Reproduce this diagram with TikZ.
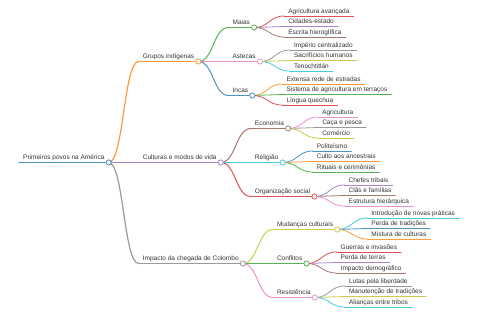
\documentclass[tikz,border=0pt]{standalone}
\usepackage{fontspec}
\setmainfont{Liberation Sans}
\usepackage{xcolor}
\usetikzlibrary{positioning,calc}
\definecolor{ink}{HTML}{333333}
\definecolor{cblue}{HTML}{1F77B4}
\definecolor{corange}{HTML}{FF7F0E}
\definecolor{cgreen}{HTML}{2CA02C}
\definecolor{cred}{HTML}{D62728}
\definecolor{cpurple}{HTML}{9467BD}
\definecolor{cbrown}{HTML}{8C564B}
\definecolor{cpink}{HTML}{E377C2}
\definecolor{cgray}{HTML}{7F7F7F}
\definecolor{colive}{HTML}{BCBD22}
\definecolor{ccyan}{HTML}{17BECF}

\begin{document}
\begin{tikzpicture}[
  x=1pt, y=-1pt,
  every node/.style={font=\fontsize{6.5}{7.5}\selectfont},
  topic/.style={
    anchor=south west, inner xsep=4pt, inner ysep=0pt,
    text height=4.7pt, text depth=2.6pt, text=ink
  },
  link/.style={line width=#1, line cap=round},
  knob/.style={draw, fill=white, line width=0.8pt}
]
\useasboundingbox (0,0) rectangle (480,320);

% Root and first level
\node[topic] (root) at (19,162.5) {Primeiros povos na América};
\node[topic] (grupos)   at ($(root.south east)+(30,-101)$) {Grupos indígenas};
\node[topic] (culturas) at ($(root.south east)+(30,0)$)    {Culturas e modos de vida};
\node[topic] (impacto)  at ($(root.south east)+(30,101)$)  {Impacto da chegada de Colombo};

% Second level
\node[topic] (maias)    at ($(grupos.south east)+(30,-34)$) {Maias};
\node[topic] (astecas)  at ($(grupos.south east)+(30,0)$)   {Astecas};
\node[topic] (incas)    at ($(grupos.south east)+(30,34)$)  {Incas};
\node[topic] (economia) at ($(culturas.south east)+(30,-34)$) {Economia};
\node[topic] (religiao) at ($(culturas.south east)+(30,0)$)   {Religião};
\node[topic] (organiz)  at ($(culturas.south east)+(30,34)$)  {Organização social};
\node[topic] (mudancas) at ($(impacto.south east)+(30,-34)$) {Mudanças culturais};
\node[topic] (conflit)  at ($(impacto.south east)+(30,0)$)   {Conflitos};
\node[topic] (resist)   at ($(impacto.south east)+(30,34)$)  {Resistência};

% Leaves
\node[topic] (ma1) at ($(maias.south east)+(30,-11.5)$) {Agricultura avançada};
\node[topic] (ma2) at ($(maias.south east)+(30,-1)$)    {Cidades-estado};
\node[topic] (ma3) at ($(maias.south east)+(30,9.5)$)   {Escrita hieroglífica};
\node[topic] (as1) at ($(astecas.south east)+(30,-11.5)$) {Império centralizado};
\node[topic] (as2) at ($(astecas.south east)+(30,-1)$)    {Sacrifícios humanos};
\node[topic] (as3) at ($(astecas.south east)+(30,9.5)$)   {Tenochtitlán};
\node[topic] (in1) at ($(incas.south east)+(30,-11.5)$) {Extensa rede de estradas};
\node[topic] (in2) at ($(incas.south east)+(30,-1)$)    {Sistema de agricultura em terraços};
\node[topic] (in3) at ($(incas.south east)+(30,9.5)$)   {Língua quechua};
\node[topic] (ec1) at ($(economia.south east)+(30,-11.5)$) {Agricultura};
\node[topic] (ec2) at ($(economia.south east)+(30,-1)$)    {Caça e pesca};
\node[topic] (ec3) at ($(economia.south east)+(30,9.5)$)   {Comércio};
\node[topic] (re1) at ($(religiao.south east)+(30,-11.5)$) {Politeísmo};
\node[topic] (re2) at ($(religiao.south east)+(30,-1)$)    {Culto aos ancestrais};
\node[topic] (re3) at ($(religiao.south east)+(30,9.5)$)   {Rituais e cerimônias};
\node[topic] (or1) at ($(organiz.south east)+(30,-11.5)$) {Chefes tribais};
\node[topic] (or2) at ($(organiz.south east)+(30,-1)$)    {Clãs e famílias};
\node[topic] (or3) at ($(organiz.south east)+(30,9.5)$)   {Estrutura hierárquica};
\node[topic] (mu1) at ($(mudancas.south east)+(30,-11.5)$) {Introdução de novas práticas};
\node[topic] (mu2) at ($(mudancas.south east)+(30,-1)$)    {Perda de tradições};
\node[topic] (mu3) at ($(mudancas.south east)+(30,9.5)$)   {Mistura de culturas};
\node[topic] (co1) at ($(conflit.south east)+(30,-11.5)$) {Guerras e invasões};
\node[topic] (co2) at ($(conflit.south east)+(30,-1)$)    {Perda de terras};
\node[topic] (co3) at ($(conflit.south east)+(30,9.5)$)   {Impacto demográfico};
\node[topic] (rs1) at ($(resist.south east)+(30,-11.5)$) {Lutas pela liberdade};
\node[topic] (rs2) at ($(resist.south east)+(30,-1)$)    {Manutenção de tradições};
\node[topic] (rs3) at ($(resist.south east)+(30,9.5)$)   {Alianças entre tribos};

% Links, coloured after the child
\foreach \a/\b/\c/\w in {root/grupos/corange/1.2, root/culturas/cpurple/1.2, root/impacto/cgray/1.2,
  grupos/maias/cgreen/1.0, grupos/astecas/cpink/1.0, grupos/incas/cblue/1.0,
  culturas/economia/cbrown/1.0, culturas/religiao/ccyan/1.0, culturas/organiz/cred/1.0,
  impacto/mudancas/colive/1.0, impacto/conflit/cgreen/1.0, impacto/resist/cpink/1.0,
  maias/ma1/cred/0.8, maias/ma2/cpurple/0.8, maias/ma3/cbrown/0.8,
  astecas/as1/cgray/0.8, astecas/as2/colive/0.8, astecas/as3/ccyan/0.8,
  incas/in1/corange/0.8, incas/in2/cgreen/0.8, incas/in3/cred/0.8,
  economia/ec1/cpink/0.8, economia/ec2/cgray/0.8, economia/ec3/colive/0.8,
  religiao/re1/cblue/0.8, religiao/re2/corange/0.8, religiao/re3/cgreen/0.8,
  organiz/or1/cpurple/0.8, organiz/or2/cbrown/0.8, organiz/or3/cpink/0.8,
  mudancas/mu1/ccyan/0.8, mudancas/mu2/cblue/0.8, mudancas/mu3/corange/0.8,
  conflit/co1/cred/0.8, conflit/co2/cpurple/0.8, conflit/co3/cbrown/0.8,
  resist/rs1/cgray/0.8, resist/rs2/colive/0.8, resist/rs3/ccyan/0.8} {
  \draw[link=\w pt, draw=\c!80] (\a.south east) .. controls +(15,0) and +(-15,0) .. (\b.south west);
  \draw[link=\w pt, draw=\c!80] (\b.south west) -- (\b.south east);
}
\draw[link=1.6pt, draw=cblue!80] (root.south west) -- (root.south east);

% Knobs on the inner topics
\foreach \n/\c in {root/cblue, grupos/corange, culturas/cpurple, impacto/cgray,
  maias/cgreen, astecas/cpink, incas/cblue, economia/cbrown, religiao/ccyan, organiz/cred,
  mudancas/colive, conflit/cgreen, resist/cpink} {
  \draw[knob, draw=\c!80] (\n.south east) circle (2.6pt);
}

\end{tikzpicture}
\end{document}
